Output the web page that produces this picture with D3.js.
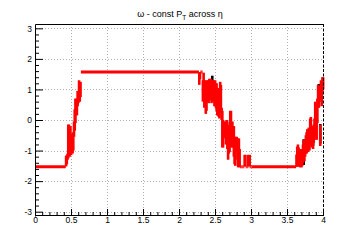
<!DOCTYPE html>
<html><head><meta charset="utf-8">
<script src="https://cdn.jsdelivr.net/npm/d3@7"></script>
<style>body{margin:0;background:#fff}svg{display:block}</style>
</head><body>
<svg id="c" width="360" height="240"></svg>
<script>
// ---------- data ----------
const xTicks = [0, 0.5, 1, 1.5, 2, 2.5, 3, 3.5, 4];
const xTickLabels = ["0", "0.5", "1", "1.5", "2", "2.5", "3", "3.5", "4"];
const yTicks = [-3, -2, -1, 0, 1, 2, 3];
const yTickLabels = ["-3", "-2", "-1", "0", "1", "2", "3"];

const binW = 0.01;
// wide constant stretches
const flatFrom = [0.00, 0.63, 3.00];
const flatTo   = [0.42, 2.27, 3.62];
const flatVal  = [-1.53, 1.57, -1.53];

// fine bins, first rise
const riseAStart = 0.42;
const riseAMean = [-1.35,-1.30,-1.20,-0.70,-0.60,-0.85,-0.65,-0.80,-0.75,-0.85,-0.70,-0.30,0.00,0.30,0.45,0.35,0.70,0.75,0.95,0.90,1.00];
const riseAErr  = [0.17,0.15,0.10,0.55,0.45,0.35,0.45,0.35,0.30,0.25,0.30,0.25,0.35,0.40,0.25,0.20,0.25,0.20,0.35,0.30,0.25];

// fine bins, fall
const fallStart = 2.27;
const fallMean = [1.35,1.45,1.57,1.57,1.57,0.95,1.20,0.85,0.95,0.70,0.75,0.95,1.00,0.90,1.05,0.95,1.10,0.90,1.00,0.95,1.05,0.80,1.00,0.80,0.75,0.55,0.60,0.45,0.35,0.75,0.70,0.20,
  -0.30,-0.45,-0.30,-0.35,-0.30,-0.45,-0.40,-0.50,-0.80,-0.65,-0.60,-0.30,-0.25,-0.50,-0.35,-0.55,-0.70,-1.00,-1.05,-0.80,-0.75,-0.95,-1.10,-1.05,-1.25,
  -1.53,-1.53,-1.53,-1.53,-1.53,-1.53,-1.33,-1.33,-1.53,-1.53,-1.53,-1.33,-1.53,-1.33,-1.53,-1.53];
const fallErr = [0.20,0.12,0,0,0,0.35,0.35,0.45,0.35,0.50,0.45,0.35,0.30,0.35,0.30,0.30,0.25,0.35,0.30,0.35,0.25,0.35,0.30,0.40,0.45,0.40,0.45,0.35,0.30,0.50,0.45,0.20,
  0.60,0.45,0.25,0.25,0.25,0.35,0.40,0.45,0.50,0.45,0.45,0.60,0.55,0.40,0.30,0.35,0.50,0.45,0.45,0.25,0.20,0.35,0.45,0.45,0.30,
  0,0,0,0,0,0,0.19,0.19,0,0,0,0.19,0,0.19,0,0];

// fine bins, second rise
const riseBStart = 3.62;
const riseBMean = [-1.33,-1.20,-1.10,-1.20,-1.35,-1.30,-1.20,-1.35,-1.25,-1.10,-1.00,-1.05,-0.95,-0.80,-0.75,-0.60,-0.70,-0.55,-0.65,-0.40,-0.30,-0.55,-0.50,-0.60,-0.45,-0.30,0.05,-0.10,-0.35,0.30,0.85,0.75,0.85,-0.50,1.00,0.75,1.15,1.20];
const riseBErr  = [0.20,0.33,0.30,0.30,0.18,0.25,0.25,0.20,0.25,0.30,0.35,0.30,0.25,0.30,0.35,0.30,0.35,0.30,0.35,0.45,0.40,0.35,0.30,0.35,0.30,0.35,0.55,0.50,0.30,0.40,0.30,0.35,0.25,0.35,0.30,0.30,0.25,0.20];

// black (underlying) series, visible only where it differs
const blackLo   = [2.45, 3.72, 3.77, 3.85, 3.93, 3.95];
const blackMean = [1.30, -1.05, -0.60, -0.55, 0.80, -0.45];
const blackErr  = [0.15, 0.42, 0.25, 0.30, 0.38, 0.32];

// ---------- chart ----------
const svg = d3.select("#c");
const x = d3.scaleLinear().domain([0, 4]).range([35, 323]);
const y = d3.scaleLinear().domain([-Math.PI, Math.PI]).range([216, 24]);
const font = "'Liberation Sans', Arial, Helvetica, sans-serif";

// grid
const grid = svg.append("g").attr("stroke", "#b0b0b0").attr("stroke-width", 1).attr("stroke-dasharray", "1,2");
grid.selectAll(null).data(xTicks.filter(v => v > 0 && v < 4)).join("line")
  .attr("x1", d => x(d) + 0.5).attr("x2", d => x(d) + 0.5).attr("y1", 24).attr("y2", 216);
grid.selectAll(null).data(yTicks).join("line")
  .attr("y1", d => Math.round(y(d)) + 0.5).attr("y2", d => Math.round(y(d)) + 0.5).attr("x1", 36).attr("x2", 323.5);

function fine(start, means, errs) {
  return means.map((m, i) => ({x0: start + i * binW, x1: start + (i + 1) * binW, m, e: errs[i]}));
}
const redBins = [
  ...flatFrom.map((f, i) => ({x0: f, x1: flatTo[i], m: flatVal[i], e: 0})),
  ...fine(riseAStart, riseAMean, riseAErr),
  ...fine(fallStart, fallMean, fallErr),
  ...fine(riseBStart, riseBMean, riseBErr)
];
const blackBins = blackLo.map((l, i) => ({x0: l, x1: l + binW, m: blackMean[i], e: blackErr[i]}));

function drawBins(bins, color) {
  const g = svg.append("g").attr("stroke", color).attr("stroke-linecap", "butt");
  g.selectAll(null).data(bins).join("line")
    .attr("stroke-width", 3)
    .attr("x1", d => x(d.x0) + 0.5).attr("x2", d => x(d.x1) + 0.5)
    .attr("y1", d => y(d.m)).attr("y2", d => y(d.m));
  g.selectAll(null).data(bins.filter(d => d.e > 0)).join("line")
    .attr("stroke-width", 2.6)
    .attr("x1", d => x((d.x0 + d.x1) / 2) + 0.5).attr("x2", d => x((d.x0 + d.x1) / 2) + 0.5)
    .attr("y1", d => y(d.m - d.e)).attr("y2", d => y(d.m + d.e));
}
drawBins(blackBins, "#000000");
drawBins(redBins, "#ff0000");

// frame top and right
svg.append("line").attr("x1", 35.5).attr("x2", 323.5).attr("y1", 24.5).attr("y2", 24.5).attr("stroke", "#000");
svg.append("line").attr("x1", 323.5).attr("x2", 323.5).attr("y1", 24).attr("y2", 216)
  .attr("stroke", "#000").attr("stroke-dasharray", "3,1.5");

// axes
const xMinor = d3.range(0, 41).map(i => i / 10).filter(v => Math.abs(v * 2 - Math.round(v * 2)) > 1e-6);
const yMinor = d3.range(-15, 16).map(i => i / 5).filter(v => Math.abs(v - Math.round(v)) > 1e-6);

svg.append("g").attr("transform", "translate(0,215)")
  .call(d3.axisBottom(x).tickValues(xTicks).tickFormat((d, i) => xTickLabels[i]).tickSize(-6).tickSizeOuter(0).tickPadding(2));
svg.append("g").attr("transform", "translate(0,215)")
  .call(d3.axisBottom(x).tickValues(xMinor).tickFormat("").tickSize(-3).tickSizeOuter(0))
  .select(".domain").remove();
svg.append("g").attr("transform", "translate(35,0)")
  .call(d3.axisLeft(y).tickValues(yTicks).tickFormat((d, i) => yTickLabels[i]).tickSize(-8).tickSizeOuter(0).tickPadding(3));
svg.append("g").attr("transform", "translate(35,0)")
  .call(d3.axisLeft(y).tickValues(yMinor).tickFormat("").tickSize(-4).tickSizeOuter(0))
  .select(".domain").remove();
svg.selectAll(".tick text").attr("font-family", font).attr("font-size", 8.5).attr("fill", "#000");
svg.selectAll(".domain, .tick line").attr("stroke", "#000");

// title
const title = svg.append("text").attr("x", 180).attr("y", 17).attr("text-anchor", "middle")
  .attr("font-family", font).attr("font-size", 9).attr("fill", "#000");
title.append("tspan").text("ω - const P");
title.append("tspan").attr("dy", 3).attr("font-size", 6.5).text("T");
title.append("tspan").attr("dy", -3).text(" across η");
</script>
</body></html>
